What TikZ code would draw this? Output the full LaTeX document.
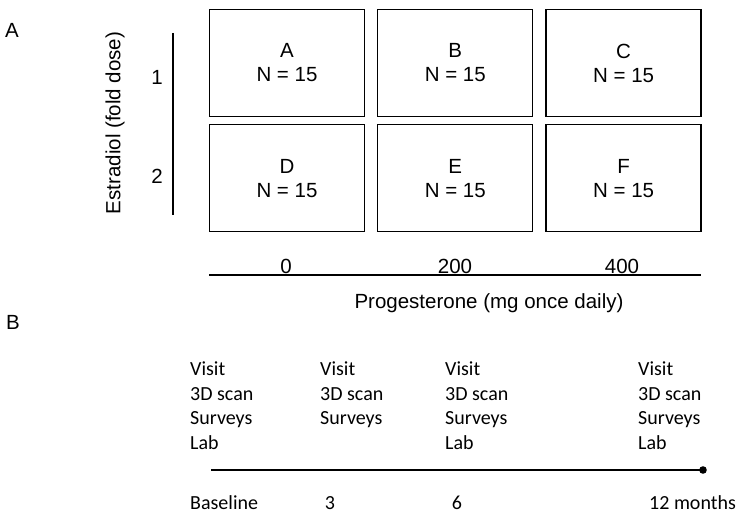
\documentclass[tikz,border=0pt]{standalone}
\usepackage{fontspec}
\setmainfont{Liberation Sans}
\newfontfamily\calibri{Carlito}
\usetikzlibrary{positioning}

\begin{document}
\begin{tikzpicture}[x=1pt,y=-1pt,
    group/.style={draw,line width=1.3pt,minimum width=155pt,minimum height=107pt,
        align=center,font=\fontsize{20.5}{24}\selectfont},
    axislabel/.style={font=\fontsize{20.5}{24}\selectfont},
    visit/.style={anchor=north west,align=left,inner sep=0pt,
        font=\calibri\fontsize{20}{24.4}\selectfont},
    month/.style={anchor=base,inner sep=0pt,font=\calibri\fontsize{20}{24}\selectfont}]

    \useasboundingbox (0,0) rectangle (744,526);

    % panel A: treatment groups
    \node[axislabel] (panelA) at (12,30) {A};
    \node[group] (gA) at (287,63) {A\\N = 15};
    \node[group,right=12pt of gA] (gB) {B\\N = 15};
    \node[group,right=12pt of gB] (gC) {C\\N = 15};
    \node[group,below=7pt of gA] (gD) {D\\N = 15};
    \node[group,below=7pt of gB] (gE) {E\\N = 15};
    \node[group,below=7pt of gC] (gF) {F\\N = 15};

    \coordinate (eTop) at (173,33);
    \coordinate (eBot) at (173,215);
    \draw[line width=1.2pt] (eTop) -- (eBot);
    \node[axislabel] (e1) at (157,77) {1};
    \node[axislabel] (e2) at (157,176) {2};
    \node[axislabel,rotate=90] (estradiol) at (115,123) {Estradiol (fold dose)};

    \coordinate (pLeft) at (209,275);
    \coordinate (pRight) at (701,275);
    \draw[line width=1.2pt] (pLeft) -- (pRight);
    \node[axislabel] (p0) at (286,266) {0};
    \node[axislabel] (p200) at (455,266) {200};
    \node[axislabel] (p400) at (622,266) {400};
    \node[axislabel] (progesterone) at (489,303) {Progesterone (mg once daily)};

    % panel B: visit schedule
    \node[axislabel] (panelB) at (13,322) {B};
    \node[visit] (v0) at (190,362) {Visit\\3D scan\\Surveys\\Lab};
    \node[visit] (v3) at (320,362) {Visit\\3D scan\\Surveys};
    \node[visit] (v6) at (445,362) {Visit\\3D scan\\Surveys\\Lab};
    \node[visit] (v12) at (638,362) {Visit\\3D scan\\Surveys\\Lab};

    \coordinate (tStart) at (211,470);
    \coordinate (tEnd) at (703,470);
    \draw[line width=1.3pt] (tStart) -- (tEnd);
    \fill (tEnd) circle[radius=3.8pt];

    \node[month,anchor=base west] (m0) at (190,509) {Baseline};
    \node[month] (m3) at (330,509) {3};
    \node[month] (m6) at (457,509) {6};
    \node[month,anchor=base west] (m12) at (649,509) {12 months};

\end{tikzpicture}
\end{document}
